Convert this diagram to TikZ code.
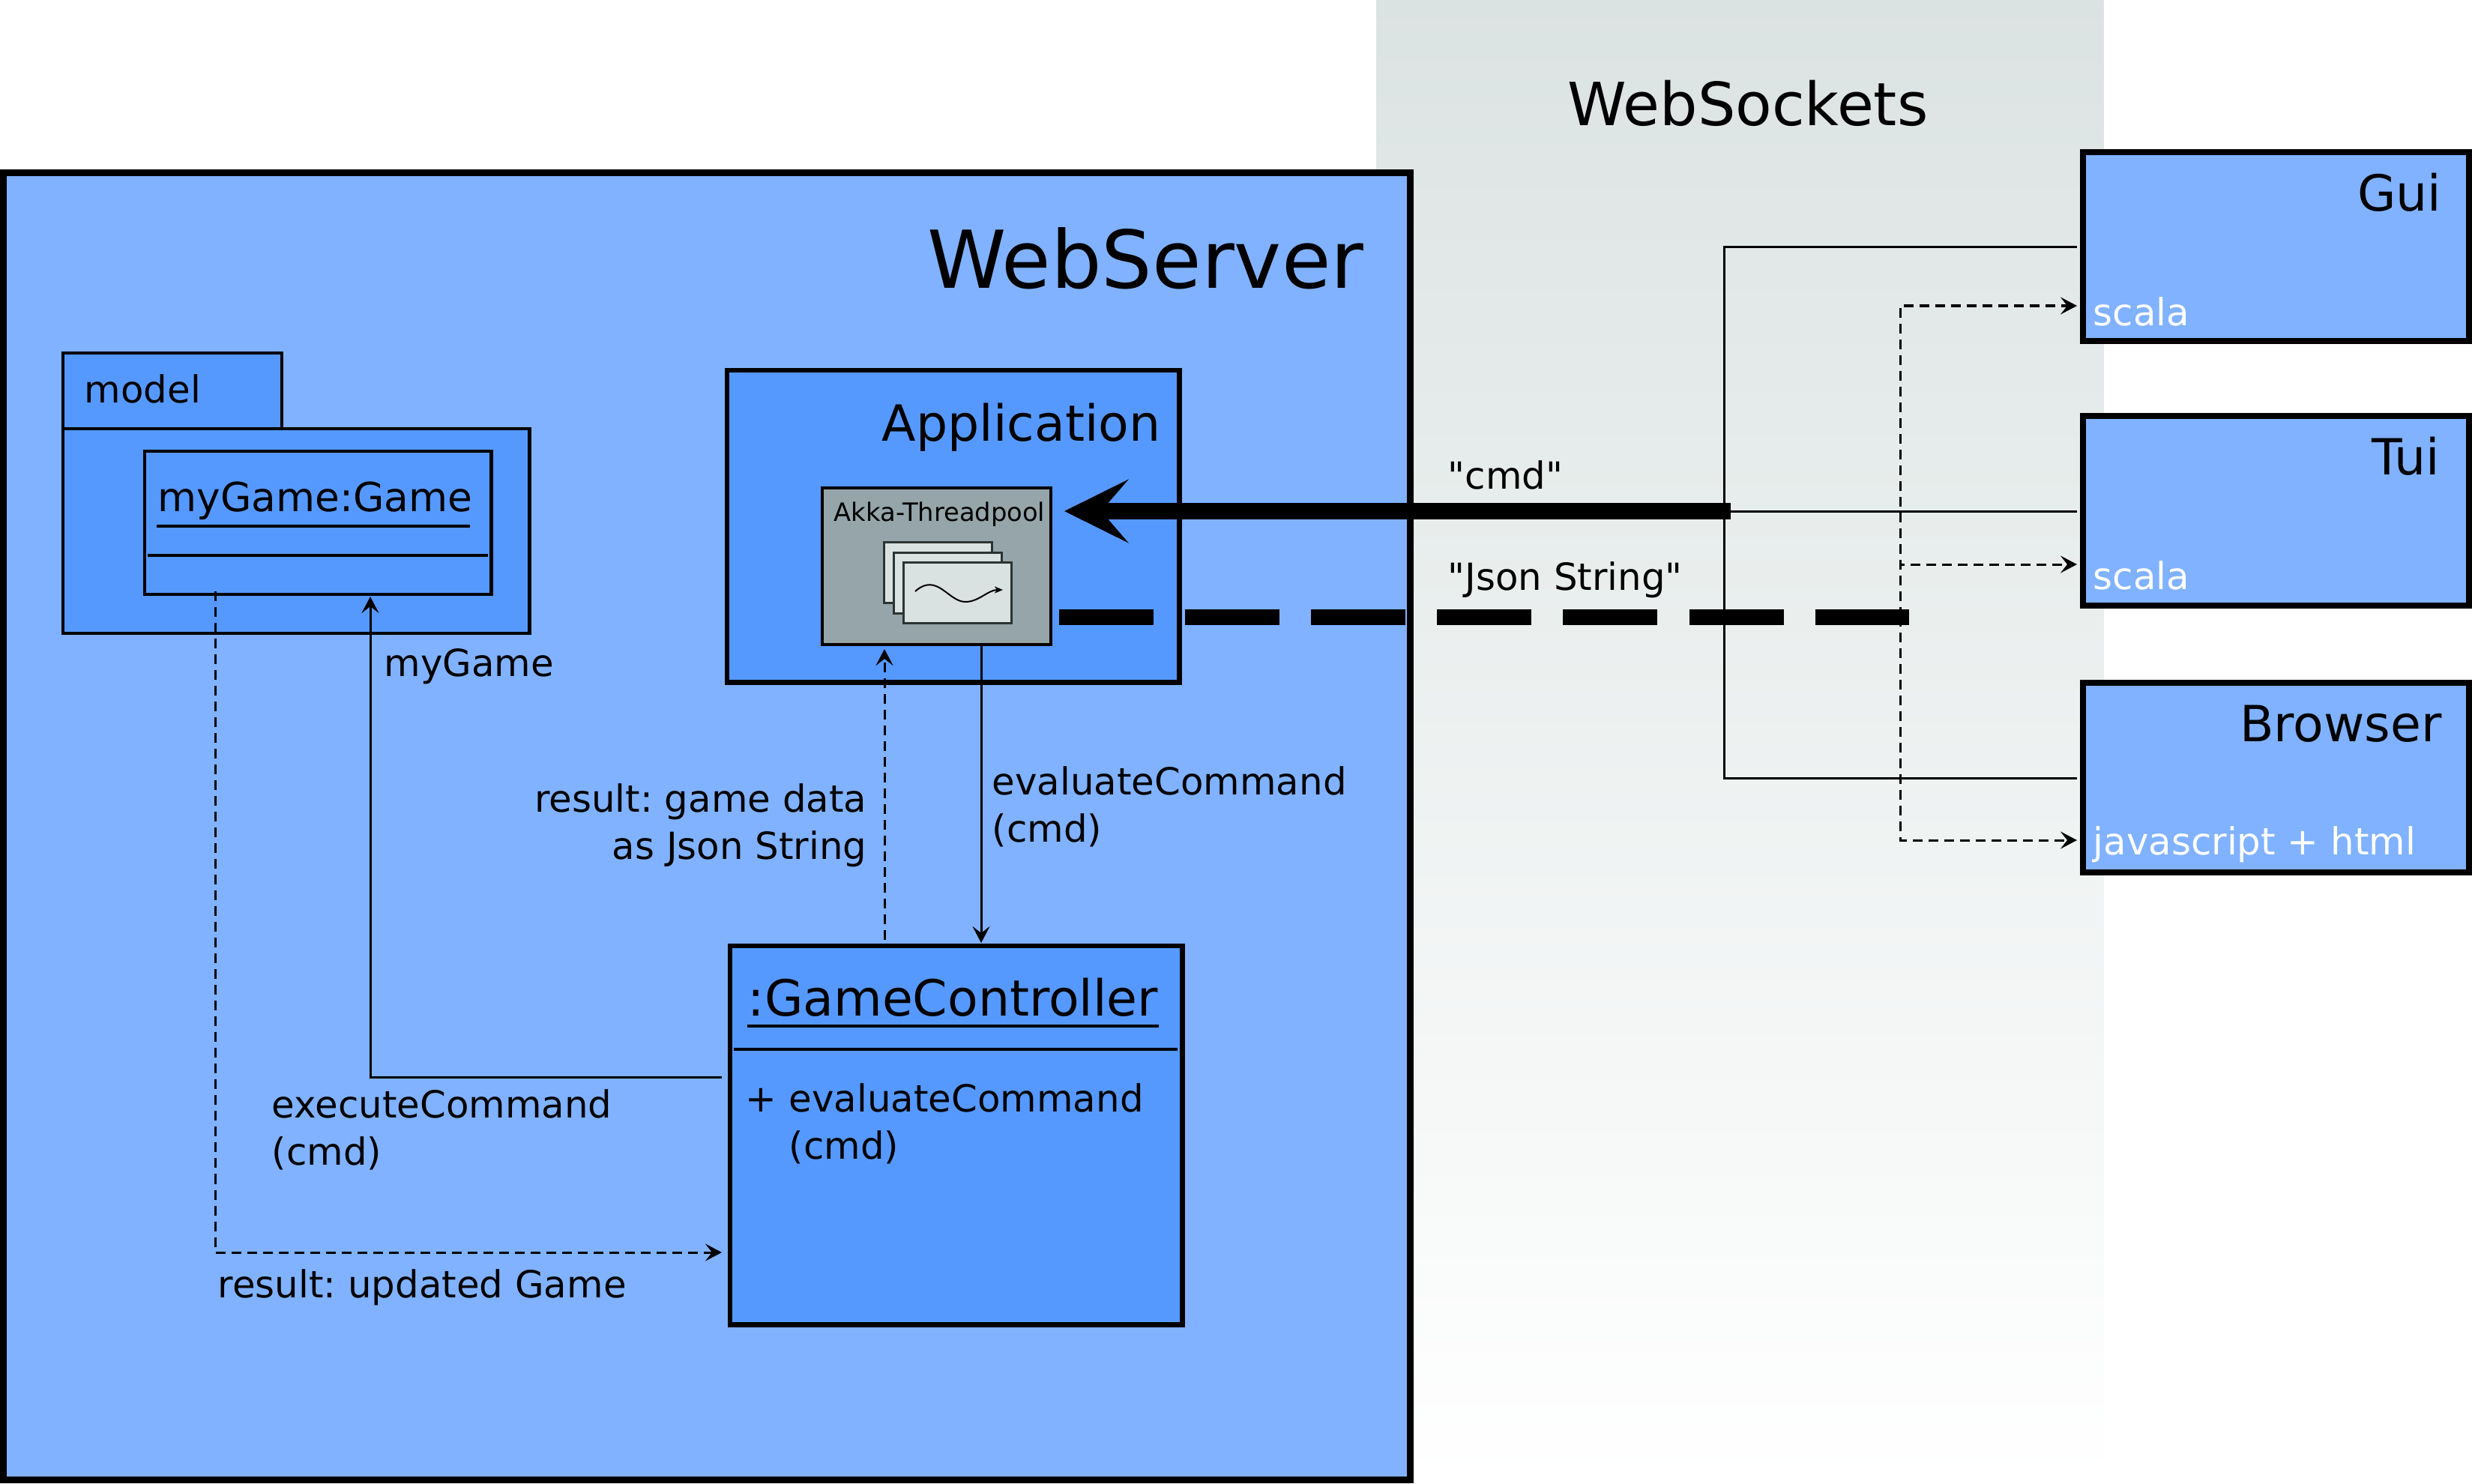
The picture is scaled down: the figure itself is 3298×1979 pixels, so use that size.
\documentclass[tikz,border=0pt]{standalone}
\usepackage{fontspec}
\setmainfont{DejaVu Sans}
\newfontfamily\straightquotes{DejaVu Sans}
\usetikzlibrary{arrows.meta, positioning}
\definecolor{server blue}{HTML}{80B2FF}
\definecolor{part blue}{HTML}{5599FF}
\definecolor{pool grey}{HTML}{95A5A9}
\definecolor{sheet grey}{HTML}{DAE2E1}
\definecolor{sheet edge}{HTML}{2B3432}
\definecolor{band top}{HTML}{DBE3E2}
\tikzset{
    server box/.style = {rectangle, draw=black, line width=0.09cm, fill=server blue, anchor=north west, inner sep=0pt, outer sep=0pt},
    client box/.style = {rectangle, draw=black, line width=0.08cm, fill=server blue, anchor=north west, inner sep=0pt, outer sep=0pt},
    part box/.style = {rectangle, draw=black, line width=0.065cm, fill=part blue, anchor=north west, inner sep=0pt, outer sep=0pt},
    folder box/.style = {rectangle, draw=black, line width=0.045cm, fill=part blue, anchor=north west, inner sep=0pt, outer sep=0pt},
    pool box/.style = {rectangle, draw=black, line width=0.035cm, fill=pool grey, anchor=north west, inner sep=0pt, outer sep=0pt},
    thread sheet/.style = {rectangle, draw=sheet edge, line width=0.03cm, fill=sheet grey, anchor=north west, inner sep=0pt, outer sep=0pt, minimum width=1.44cm, minimum height=0.81cm},
    huge title/.style = {inner sep=0pt, font=\fontsize{30.3}{36}\selectfont},
    band title/.style = {inner sep=0pt, font=\fontsize{22.6}{27}\selectfont},
    box title/.style = {inner sep=0pt, font=\fontsize{18.9}{23}\selectfont},
    object title/.style = {inner sep=0pt, font=\fontsize{15.2}{18}\selectfont},
    small title/.style = {inner sep=0pt, font=\fontsize{9.6}{12}\selectfont},
    call label/.style = {inner sep=0pt, font=\fontsize{14.17}{17.9}\selectfont},
    lang label/.style = {call label, text=white},
    call/.style = {line width=0.03cm, -{Stealth[length=0.22cm, width=0.23cm, inset=0.09cm]}},
    plain link/.style = {line width=0.03cm},
    reply/.style = {call, dash pattern=on 0.13cm off 0.08cm},
    rule line/.style = {line width=0.035cm},
    socket send/.style = {line width=0.21cm, -{Stealth[length=0.85cm, width=0.84cm, inset=0.36cm]}},
    socket reply/.style = {line width=0.21cm, dash pattern=on 1.26cm off 0.42cm}
}
\frenchspacing
\begin{document}
\begin{tikzpicture}[x=0.01cm, y=-0.01cm]
    \useasboundingbox (0,0) rectangle (3298,1979);
    % band behind the socket links
    \node[rectangle, inner sep=0pt, outer sep=0pt, anchor=north west, minimum width=9.70cm, minimum height=19.79cm, top color=band top, bottom color=white] (socketband) at (1836,0) {};
    \node[band title, anchor=base west] (sockettitle) at (2091,168) {WebSockets};

    \node[server box, minimum width=18.76cm, minimum height=17.42cm] (webserver) at (4,231) {};
    \node[huge title, anchor=base east] (webservertitle) at (1820,384) {WebServer};

    % package with the game object
    \node[folder box, minimum width=2.92cm, minimum height=1.01cm] (modeltab) at (84,471) {};
    \node[folder box, minimum width=6.22cm, minimum height=2.73cm] (model) at (84,572) {};
    \node[call label, anchor=base west] (modeltitle) at (112,537) {model};
    \node[folder box, minimum width=4.62cm, minimum height=1.91cm] (mygame) at (193,602) {};
    \node[object title, anchor=base west] (mygametitle) at (210,682) {myGame:Game};
    \draw[rule line] (209,702) -- (627,702);
    \draw[rule line] (197,741) -- (651,741);

    % application with its pool
    \node[part box, minimum width=6.03cm, minimum height=4.16cm] (application) at (970,494) {};
    \node[box title, anchor=base east] (applicationtitle) at (1549,588) {Application};
    \node[pool box, minimum width=3.05cm, minimum height=2.09cm] (akka) at (1097,651) {};
    \node[small title, anchor=base west] (akkatitle) at (1112,695) {Akka-Threadpool};
    \node[thread sheet] (sheetback) at (1179,723) {};
    \node[thread sheet] (sheetmid) at (1192,737) {};
    \node[thread sheet] (sheetfront) at (1205,750) {};
    \coordinate (wavestart) at (1221,789);
    \coordinate (waveend) at (1338,787);
    \draw[line width=0.02cm, -{Stealth[length=0.11cm, width=0.09cm, inset=0.03cm]}] (wavestart) .. controls (1250,763) and (1265,803) .. (1288,803) .. controls (1306,803) and (1318,787) .. (waveend);

    % controller
    \node[part box, minimum width=6.03cm, minimum height=5.05cm] (controller) at (974,1262) {};
    \node[box title, anchor=base west] (controllertitle) at (997,1355) {:GameController};
    \draw[rule line] (997,1369) -- (1546,1369);
    \draw[rule line] (979,1400) -- (1571,1400);
    \node[call label, anchor=base west] (controllerplus) at (994,1483) {+};
    \node[call label, anchor=base west] (controllermethod) at (1052,1483) {evaluateCommand};
    \node[call label, anchor=base west] (controllerargs) at (1052,1546) {(cmd)};

    % clients
    \node[client box, minimum width=5.15cm, minimum height=2.52cm] (gui) at (2779,203) {};
    \node[box title, anchor=base east] (guititle) at (3258,282) {Gui};
    \node[lang label, anchor=base west] (guilang) at (2792,434) {scala};
    \node[client box, minimum width=5.15cm, minimum height=2.53cm] (tui) at (2779,555) {};
    \node[box title, anchor=base east] (tuititle) at (3256,633) {Tui};
    \node[lang label, anchor=base west] (tuilang) at (2792,786) {scala};
    \node[client box, minimum width=5.15cm, minimum height=2.53cm] (browser) at (2779,911) {};
    \node[box title, anchor=base east] (browsertitle) at (3258,989) {Browser};
    \node[lang label, anchor=base west] (browserlang) at (2792,1140) {javascript + html};

    % calls inside the server
    \coordinate (akkacall) at (1309,860);
    \coordinate (akkareply) at (1180,866);
    \coordinate (controllerreply) at (1180,1254);
    \coordinate (controllertop) at (1309,1258);
    \coordinate (controllerout) at (963,1437);
    \coordinate (controllerin) at (963,1671);
    \coordinate (gamein) at (494,796);
    \coordinate (gameout) at (287,789);
    \draw[call] (akkacall) -- (controllertop);
    \draw[reply] (controllerreply) -- (akkareply);
    \draw[call] (controllerout) -| (gamein);
    \draw[reply] (gameout) |- (controllerin);

    \node[call label, anchor=base west] (gamelabel) at (512,902) {myGame};
    \node[call label, anchor=base west] (executelabel) at (362,1491) {executeCommand};
    \node[call label, anchor=base west] (executeargs) at (362,1554) {(cmd)};
    \node[call label, anchor=base west] (updatedlabel) at (290,1731) {result: updated Game};
    \node[call label, anchor=base east] (resultlabel) at (1157,1083) {result: game data};
    \node[call label, anchor=base east] (jsonlabel) at (1157,1146) {as Json String};
    \node[call label, anchor=base west] (evaluatelabel) at (1323,1060) {evaluateCommand};
    \node[call label, anchor=base west] (evaluateargs) at (1323,1123) {(cmd)};

    % links to the clients
    \coordinate (busjoint) at (2300,682);
    \coordinate (busend) at (2309,682);
    \coordinate (akkain) at (1420,682);
    \coordinate (guiout) at (2771,330);
    \coordinate (tuiout) at (2771,682);
    \coordinate (browserout) at (2771,1038);
    \coordinate (replyjoint) at (2535,823);
    \coordinate (guiin) at (2771,408);
    \coordinate (tuiin) at (2771,753);
    \coordinate (browserin) at (2771,1121);
    \coordinate (replystart) at (1413,823);
    \coordinate (replyend) at (2547,823);
    \draw[plain link] (guiout) -| (busjoint) |- (browserout);
    \draw[plain link] (busjoint) -- (tuiout);
    \draw[reply] (replyjoint) |- (guiin);
    \draw[reply] (replyjoint) |- (tuiin);
    \draw[reply] (replyjoint) |- (browserin);
    \draw[socket send] (busend) -- (akkain);
    \draw[socket reply] (replystart) -- (replyend);
    \node[call label, anchor=base west] (cmdlabel) at (1931,652) {\straightquotes "cmd"};
    \node[call label, anchor=base west] (stringlabel) at (1931,787) {\straightquotes "Json String"};
\end{tikzpicture}
\end{document}
